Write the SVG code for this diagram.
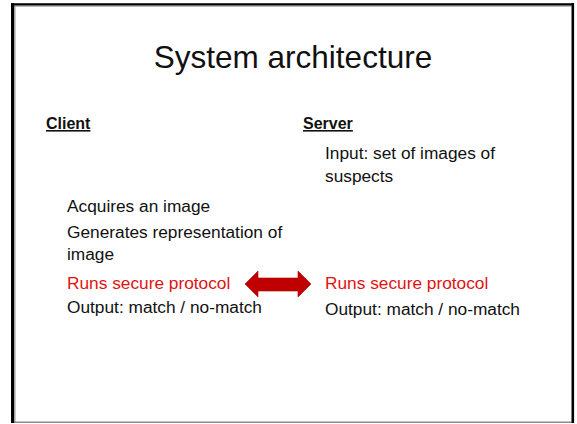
<svg xmlns="http://www.w3.org/2000/svg" width="577" height="424" viewBox="0 0 577 424">
  <style>
    text { font-family: "Liberation Sans", Arial, sans-serif; fill: #111; }
    .title { font-size: 31.5px; }
    .head { font-size: 16px; font-weight: bold; text-decoration: underline; }
    .body { font-size: 17.3px; }
    .red { fill: #E31212; }
    .arrow { fill: #C00000; stroke: #B00000; stroke-width: 0.6; }
  </style>
  <rect x="0" y="0" width="577" height="424" fill="#fff"/>
  <!-- slide frame -->
  <g id="frame">
    <line x1="15" y1="6" x2="15" y2="422" stroke="#9a9a9a" stroke-width="1"/>
    <line x1="14" y1="6.2" x2="571.5" y2="6.2" stroke="#9a9a9a" stroke-width="1"/>
    <line x1="11" y1="422.3" x2="574" y2="422.3" stroke="#8a8a8a" stroke-width="1.6"/>
    <line x1="12.6" y1="3" x2="12.6" y2="423" stroke="#000" stroke-width="3.2"/>
    <line x1="11" y1="4.3" x2="574" y2="4.3" stroke="#000" stroke-width="2.2"/>
    <line x1="572.8" y1="3" x2="572.8" y2="423" stroke="#000" stroke-width="2.6"/>
  </g>
  <g id="title">
    <text class="title" x="293" y="68" text-anchor="middle">System architecture</text>
  </g>
  <g id="client">
    <text class="head" x="46" y="129">Client</text>
    <text class="body" x="67" y="212">Acquires an image</text>
    <text class="body" x="67" y="237.5">Generates representation of</text>
    <text class="body" x="67" y="260">image</text>
    <text class="body red" x="67" y="288.5">Runs secure protocol</text>
    <text class="body" x="67" y="313">Output: match / no-match</text>
  </g>
  <g id="server">
    <text class="head" x="303" y="129">Server</text>
    <text class="body" x="325" y="159">Input: set of images of</text>
    <text class="body" x="325" y="182">suspects</text>
    <text class="body red" x="325" y="288.5">Runs secure protocol</text>
    <text class="body" x="325" y="315">Output: match / no-match</text>
  </g>
  <g id="connectors">
    <polygon class="arrow" points="245,284 258,271 258,278 298,278 298,271 311,284 298,297 298,291 258,291 258,297"/>
  </g>
</svg>
